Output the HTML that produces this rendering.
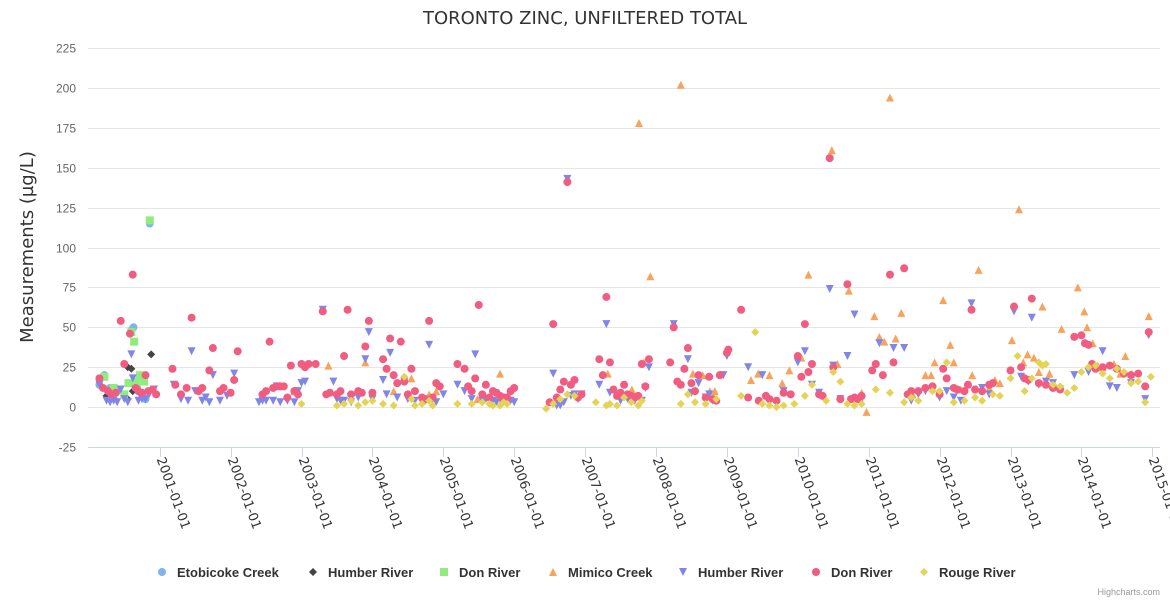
<!DOCTYPE html>
<html><head><meta charset="utf-8"><style>
body{margin:0;background:#fff;}
svg{display:block;font-family:"DejaVu Sans","Liberation Sans",sans-serif;}
</style></head><body>
<svg id="chart" width="1170" height="600" viewBox="0 0 1170 600" xmlns="http://www.w3.org/2000/svg">
<rect width="1170" height="600" fill="#fff"/>
<text x="585" y="24" text-anchor="middle" font-size="18" fill="#333">TORONTO ZINC, UNFILTERED TOTAL</text>
<text transform="translate(33,247) rotate(-90)" text-anchor="middle" font-size="18" fill="#333">Measurements (µg/L)</text>
<g id="grid"></g><g id="xaxis"></g><g id="marks"></g><g id="legend"></g>
<text x="1160" y="595" text-anchor="end" font-size="9" fill="#999" font-family="Liberation Sans, sans-serif">Highcharts.com</text>
</svg>
<script>
const yTicks=[-25,0,25,50,75,100,125,150,175,200,225];
const xTickYears=[2001,2002,2003,2004,2005,2006,2007,2008,2009,2010,2011,2012,2013,2014,2015];
const seriesNames=["Etobicoke Creek","Humber River","Don River","Mimico Creek","Humber River","Don River","Rouge River"];
const etobicoke=[[2000.15,14],[2000.22,20],[2000.3,12],[2000.4,10],[2000.6,48],[2000.63,50],[2000.68,12],[2000.75,8],[2000.8,5],[2000.86,115]];
const humberBlack=[[2000.25,7],[2000.55,5],[2000.6,24],[2000.62,10],[2000.55,25],[2000.88,33]];
const donGreen=[[2000.22,19],[2000.35,12],[2000.5,8],[2000.56,15],[2000.6,47],[2000.64,41],[2000.67,16],[2000.72,20],[2000.78,16],[2000.86,117]];
const mimico=[[2002.9,10],[2003.38,26],[2003.9,28],[2004.3,10],[2004.55,18],[2004.8,8],[2004.9,10],[2005.48,5],[2005.8,21],[2007.32,21],[2007.66,11],[2007.76,178],[2007.83,28],[2007.92,82],[2008.35,202],[2008.52,21],[2008.66,20],[2008.76,10],[2008.83,10],[2009.34,17],[2009.44,21],[2009.6,20],[2009.78,15],[2009.88,23],[2010.05,31],[2010.15,83],[2010.48,161],[2010.56,27],[2010.72,73],[2010.9,9],[2010.97,-3],[2011.08,57],[2011.15,44],[2011.22,41],[2011.3,194],[2011.38,43],[2011.46,59],[2011.62,8],[2011.8,20],[2011.88,20],[2011.93,28],[2012.05,67],[2012.15,39],[2012.2,28],[2012.3,11],[2012.46,20],[2012.55,86],[2012.7,12],[2012.78,17],[2012.85,15],[2013.02,42],[2013.12,124],[2013.18,28],[2013.24,33],[2013.33,31],[2013.4,22],[2013.45,63],[2013.55,21],[2013.72,49],[2013.95,75],[2014.04,60],[2014.08,50],[2014.16,40],[2014.23,26],[2014.3,25],[2014.46,27],[2014.55,21],[2014.62,32],[2014.7,21],[2014.95,57]];
const humberBlue=[[2000.15,14],[2000.25,4],[2000.3,3],[2000.35,4],[2000.4,3],[2000.45,11],[2000.5,5],[2000.55,3],[2000.6,33],[2000.62,18],[2000.7,4],[2000.75,5],[2000.8,5],[2000.85,8],[2000.92,11],[2001.2,14],[2001.3,5],[2001.4,4],[2001.45,35],[2001.5,10],[2001.6,4],[2001.65,6],[2001.7,3],[2001.75,20],[2001.85,4],[2001.95,7],[2002.05,21],[2002.4,3],[2002.45,4],[2002.5,4],[2002.6,4],[2002.65,13],[2002.7,3],[2002.8,4],[2002.9,3],[2002.95,10],[2003.0,15],[2003.05,16],[2003.3,61],[2003.45,16],[2003.5,5],[2003.55,4],[2003.6,4],[2003.7,3],[2003.8,6],[2003.9,30],[2003.95,47],[2004.0,5],[2004.15,17],[2004.2,8],[2004.25,34],[2004.35,6],[2004.45,16],[2004.5,5],[2004.6,4],[2004.7,3],[2004.75,4],[2004.8,39],[2004.85,5],[2004.9,3],[2005.0,8],[2005.2,14],[2005.3,10],[2005.4,5],[2005.45,33],[2005.55,4],[2005.6,5],[2005.7,4],[2005.75,3],[2005.8,5],[2005.85,4],[2005.95,4],[2006.0,3],[2006.55,21],[2006.6,1],[2006.65,1],[2006.7,3],[2006.75,143],[2006.8,7],[2006.85,8],[2006.9,5],[2006.95,8],[2007.2,14],[2007.3,52],[2007.35,9],[2007.45,7],[2007.5,4],[2007.6,5],[2007.7,4],[2007.8,4],[2007.85,12],[2007.9,25],[2008.25,52],[2008.45,30],[2008.5,9],[2008.6,15],[2008.7,6],[2008.75,8],[2008.8,4],[2008.95,20],[2009.0,32],[2009.3,25],[2009.5,20],[2009.8,10],[2010.0,28],[2010.1,35],[2010.2,14],[2010.3,9],[2010.45,74],[2010.5,26],[2010.6,5],[2010.7,32],[2010.8,58],[2010.9,5],[2011.15,40],[2011.35,37],[2011.5,37],[2011.6,4],[2011.7,8],[2011.8,10],[2012.0,6],[2012.1,10],[2012.2,6],[2012.3,4],[2012.45,65],[2012.6,12],[2012.7,8],[2013.05,60],[2013.15,19],[2013.25,16],[2013.3,56],[2013.4,14],[2013.5,16],[2013.6,15],[2013.7,11],[2013.9,20],[2014.1,22],[2014.3,35],[2014.4,13],[2014.5,12],[2014.7,15],[2014.9,5],[2014.95,45]];
const donRed=[[2000.15,18],[2000.2,12],[2000.27,10],[2000.32,8],[2000.38,9],[2000.45,54],[2000.5,27],[2000.58,46],[2000.62,83],[2000.66,12],[2000.7,10],[2000.75,9],[2000.8,20],[2000.84,10],[2000.9,11],[2000.95,8],[2001.18,24],[2001.22,14],[2001.3,8],[2001.38,12],[2001.45,56],[2001.55,10],[2001.6,12],[2001.7,23],[2001.75,37],[2001.85,10],[2001.9,12],[2002.0,9],[2002.05,17],[2002.1,35],[2002.45,8],[2002.5,10],[2002.55,41],[2002.6,12],[2002.65,13],[2002.7,13],[2002.75,13],[2002.8,6],[2002.85,26],[2002.9,10],[2002.95,8],[2003.0,27],[2003.05,25],[2003.1,27],[2003.2,27],[2003.3,60],[2003.35,8],[2003.4,9],[2003.5,8],[2003.55,10],[2003.6,32],[2003.65,61],[2003.7,8],[2003.8,10],[2003.85,9],[2003.9,38],[2003.95,54],[2004.0,9],[2004.15,30],[2004.2,24],[2004.25,43],[2004.3,20],[2004.35,15],[2004.4,41],[2004.45,16],[2004.5,8],[2004.55,24],[2004.6,10],[2004.7,6],[2004.75,5],[2004.8,54],[2004.85,6],[2004.9,15],[2004.95,13],[2005.2,27],[2005.3,24],[2005.35,13],[2005.4,10],[2005.45,18],[2005.5,64],[2005.55,8],[2005.6,14],[2005.65,6],[2005.7,10],[2005.75,9],[2005.8,7],[2005.85,6],[2005.9,6],[2005.95,10],[2006.0,12],[2006.5,3],[2006.55,52],[2006.6,6],[2006.65,11],[2006.7,16],[2006.75,141],[2006.8,14],[2006.85,17],[2006.9,6],[2006.95,8],[2007.2,30],[2007.25,20],[2007.3,69],[2007.35,28],[2007.4,11],[2007.45,7],[2007.5,9],[2007.55,14],[2007.6,8],[2007.65,7],[2007.7,6],[2007.75,7],[2007.8,27],[2007.85,13],[2007.9,30],[2008.2,28],[2008.25,50],[2008.3,16],[2008.35,14],[2008.4,24],[2008.45,37],[2008.5,15],[2008.55,10],[2008.6,20],[2008.7,6],[2008.75,19],[2008.8,5],[2008.85,4],[2008.9,20],[2009.0,34],[2009.02,36],[2009.2,61],[2009.3,6],[2009.45,4],[2009.55,7],[2009.6,5],[2009.7,4],[2009.8,9],[2009.9,8],[2010.0,32],[2010.05,19],[2010.1,52],[2010.15,22],[2010.2,27],[2010.3,8],[2010.35,7],[2010.45,156],[2010.5,25],[2010.6,5],[2010.7,77],[2010.75,5],[2010.8,6],[2010.85,5],[2010.9,7],[2011.05,23],[2011.1,27],[2011.2,20],[2011.3,83],[2011.35,28],[2011.5,87],[2011.55,8],[2011.6,10],[2011.7,10],[2011.8,12],[2011.9,13],[2012.0,8],[2012.05,24],[2012.1,18],[2012.2,12],[2012.25,11],[2012.35,10],[2012.4,14],[2012.45,61],[2012.5,11],[2012.6,10],[2012.7,14],[2012.75,15],[2013.0,23],[2013.05,63],[2013.15,25],[2013.2,18],[2013.25,17],[2013.3,68],[2013.4,15],[2013.5,14],[2013.6,12],[2013.7,11],[2013.9,44],[2014.0,45],[2014.05,40],[2014.1,39],[2014.15,27],[2014.2,24],[2014.3,25],[2014.4,26],[2014.5,24],[2014.6,21],[2014.7,20],[2014.8,21],[2014.9,13],[2014.95,47]];
const rouge=[[2003.0,2],[2003.5,1],[2003.6,2],[2003.7,4],[2003.8,1],[2003.9,3],[2004.0,4],[2004.15,2],[2004.3,1],[2004.45,19],[2004.55,5],[2004.6,1],[2004.7,2],[2004.8,4],[2004.85,1],[2005.2,2],[2005.4,2],[2005.55,3],[2005.65,2],[2005.7,1],[2005.8,1],[2005.85,3],[2005.9,2],[2006.45,-1],[2006.55,2],[2006.65,5],[2006.75,8],[2006.85,7],[2007.15,3],[2007.3,1],[2007.35,2],[2007.45,1],[2007.55,6],[2007.65,3],[2007.75,1],[2007.8,4],[2008.35,2],[2008.45,8],[2008.55,3],[2008.7,2],[2008.85,5],[2009.2,7],[2009.4,47],[2009.5,2],[2009.6,1],[2009.7,0],[2009.8,1],[2009.95,2],[2010.1,7],[2010.2,14],[2010.4,4],[2010.5,22],[2010.6,16],[2010.7,2],[2010.8,1],[2010.9,2],[2011.1,11],[2011.3,9],[2011.5,3],[2011.6,6],[2011.7,4],[2011.9,10],[2012.0,10],[2012.1,28],[2012.2,3],[2012.35,4],[2012.5,6],[2012.6,4],[2012.75,8],[2012.85,7],[2013.0,18],[2013.1,32],[2013.2,10],[2013.3,18],[2013.4,28],[2013.45,26],[2013.5,27],[2013.6,14],[2013.7,13],[2013.8,9],[2013.9,12],[2014.0,22],[2014.1,25],[2014.2,26],[2014.3,21],[2014.4,18],[2014.5,24],[2014.6,22],[2014.7,15],[2014.8,16],[2014.9,3],[2014.98,19]];

const NS="http://www.w3.org/2000/svg";
const X0=88,X1=1160,YT=48,YB=447;
function xs(yr){return 159.7+(yr-2001)*70.9;}
function ys(v){return YB-(v+25)/250*(YB-YT);}
function mk(tag,attrs,parent){const e=document.createElementNS(NS,tag);for(const k in attrs)e.setAttribute(k,attrs[k]);parent.appendChild(e);return e;}
const grid=document.getElementById('grid'),xa=document.getElementById('xaxis'),marks=document.getElementById('marks'),leg=document.getElementById('legend');
yTicks.forEach(t=>{
  const y=Math.round(ys(t))+0.5;
  if(t!==-25){const l=mk('line',{x1:X0,x2:X1,y1:y,y2:y,stroke:'#e6e6e6'},grid);
  
  }
  const tx=mk('text',{x:76,y:y+4,'text-anchor':'end','font-size':12,fill:'#666','font-family':'Liberation Sans, sans-serif'},grid);
  
  
  tx.textContent=t;
});
const ax=mk('line',{x1:X0,x2:X1,y1:447.5,y2:447.5,stroke:'#ccd6eb'},xa);


xTickYears.forEach(yr=>{
  const x=Math.round(xs(yr))+0.5;
  const tk=mk('line',{x1:x,x2:x,y1:447,y2:457,stroke:'#ccd6eb'},xa);
  
  
  const tx=mk('text',{transform:`translate(${x-4},${459}) rotate(70)`,'font-size':13,fill:'#333'},xa);
  
  
  tx.textContent=yr+'-01-01';
});
function marker(shape,color,x,y,parent){
  let e;
  if(shape==='circle')e=mk('circle',{cx:x,cy:y,r:4,fill:color},parent);
  else if(shape==='square')e=mk('rect',{x:x-4,y:y-4,width:8,height:8,fill:color},parent);
  else if(shape==='diamond')e=mk('path',{d:`M${x} ${y-4}L${x+4} ${y}L${x} ${y+4}L${x-4} ${y}Z`,fill:color},parent);
  else if(shape==='triangle')e=mk('path',{d:`M${x} ${y-4}L${x+4} ${y+4}L${x-4} ${y+4}Z`,fill:color},parent);
  else e=mk('path',{d:`M${x-4} ${y-4}L${x+4} ${y-4}L${x} ${y+4}Z`,fill:color},parent);
  return e;
}
const series=[[etobicoke,'#7cb5ec','circle','etobicoke'],[humberBlack,'#434348','diamond','humber-black'],[donGreen,'#90ed7d','square','don-green'],[mimico,'#f7a35c','triangle','mimico'],[humberBlue,'#8085e9','triangle-down','humber-blue'],[donRed,'#f15c80','circle','don-red'],[rouge,'#e4d354','diamond','rouge']];
series.forEach(([data,color,shape,key])=>{
  const g=mk('g',{},marks);
  
  
  data.forEach(([yr,v])=>{
    const m=marker(shape,color,xs(yr),ys(v),g);
    
    
  });
});
const legX=[162,313,444,553,683,816,924];
seriesNames.forEach((n,i)=>{
  const g=mk('g',{},leg);
  
  
  const m=marker(series[i][2],series[i][1],legX[i],572,g);
  
  
  const t=mk('text',{x:legX[i]+15,y:577,'font-size':13,'font-weight':'bold',fill:'#333','font-family':'Liberation Sans, sans-serif'},g);
  
  
  t.textContent=n;
});
</script>
</body></html>
